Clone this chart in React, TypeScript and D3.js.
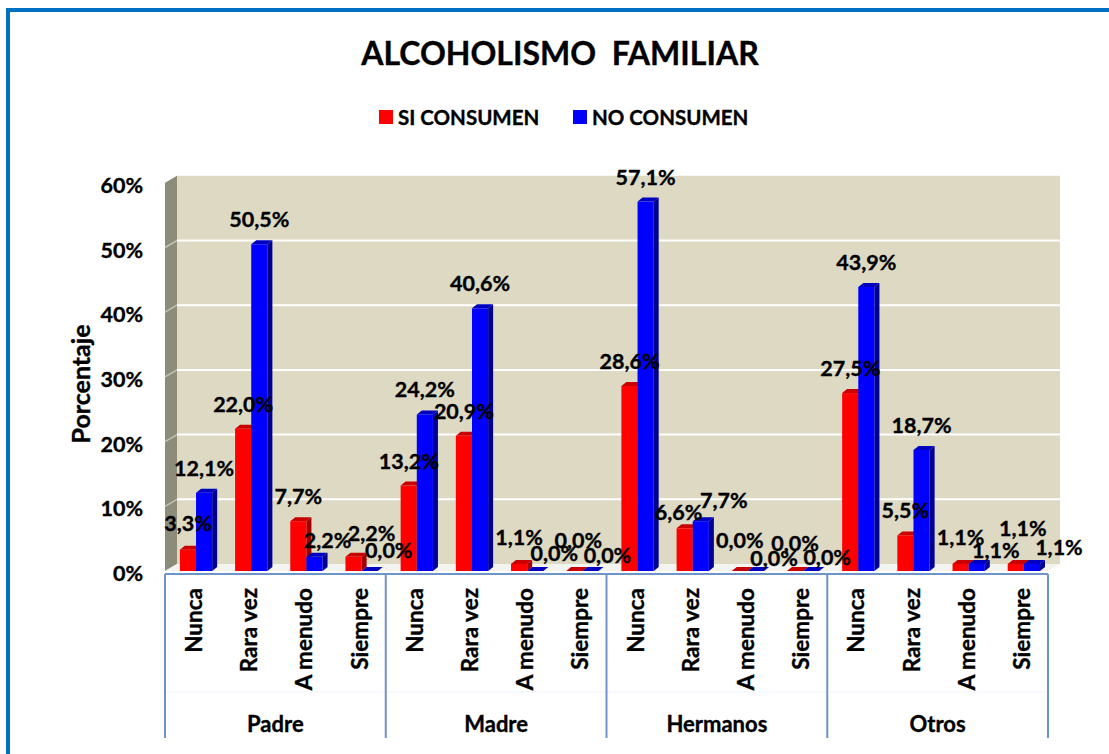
import * as d3 from 'd3';

const groups = ['Padre', 'Madre', 'Hermanos', 'Otros'];
const frequencies = ['Nunca', 'Rara vez', 'A menudo', 'Siempre'];
const seriesNames = ['SI CONSUMEN', 'NO CONSUMEN'];
// one value per group x frequency, in reading order
const siConsumen = [3.3, 22.0, 7.7, 2.2, 13.2, 20.9, 1.1, 0.0, 28.6, 6.6, 0.0, 0.0, 27.5, 5.5, 1.1, 1.1];
const noConsumen = [12.1, 50.5, 2.2, 0.0, 24.2, 40.6, 0.0, 0.0, 57.1, 7.7, 0.0, 0.0, 43.9, 18.7, 1.1, 1.1];
const yTicks = [0, 10, 20, 30, 40, 50, 60];

const W = 1109;
const H = 754;
const FONT = 'Lato, "Open Sans", sans-serif';
const PLOT = { left: 165, right: 1048, bottom: 571, top: 182.8 };
const WALL = { dx: 12, dy: -7 }; // depth of the back wall
const BAR = { dx: 5, dy: -4 }; // depth of a bar
const AXIS = { top: 574, bottom: 738 };
const INK = { fill: '#000', stroke: '#000', strokeWidth: 0.35 };

const colors = {
  si: { front: '#ff0000', top: '#c80000', side: '#a00000' },
  no: { front: '#0000ff', top: '#0000c0', side: '#000090' },
};

// Excel labels were dragged around a bit; small per-label nudges
const labelNudge: Record<string, [number, number]> = {
  'Padre|Nunca|0': [0, -2],
  'Padre|A menudo|1': [13, 8],
  'Padre|Siempre|0': [18, 1],
  'Padre|Siempre|1': [19, 4],
  'Madre|A menudo|0': [0, -2],
  'Madre|A menudo|1': [19, 7],
  'Madre|Siempre|0': [4, -6],
  'Madre|Siempre|1': [17, 9],
  'Hermanos|Rara vez|0': [-6, 9],
  'Hermanos|Rara vez|1': [23, 4],
  'Hermanos|A menudo|0': [0, -6],
  'Hermanos|A menudo|1': [18, 12],
  'Hermanos|Siempre|0': [0, -3],
  'Hermanos|Siempre|1': [16, 11],
  'Otros|A menudo|0': [0, -2],
  'Otros|A menudo|1': [19, 11],
  'Otros|Siempre|0': [7, -11],
  'Otros|Siempre|1': [27, 8],
};

const fmt = (v: number) => d3.format('.1f')(v).replace('.', ',') + '%';

export default function App() {
  const x0 = d3.scaleBand<string>().domain(groups).range([PLOT.left, PLOT.right]);
  const x1 = d3.scaleBand<string>().domain(frequencies).range([0, x0.bandwidth()]);
  const bw = x1.bandwidth();
  const xs = d3
    .scaleBand<string>()
    .domain(['0', '1'])
    .range([bw * 0.27, bw * 0.855]);
  const y = d3.scaleLinear().domain([0, 60]).range([PLOT.bottom, PLOT.top]);

  const bars = groups.flatMap((g, gi) =>
    frequencies.flatMap((f, fi) => {
      const idx = gi * frequencies.length + fi;
      return [siConsumen[idx], noConsumen[idx]].map((v, si) => ({
        key: `${g}|${f}|${si}`,
        x: (x0(g) ?? 0) + (x1(f) ?? 0) + (xs(String(si)) ?? 0),
        v,
        si,
      }));
    })
  );
  const barW = xs.bandwidth();
  const wallL = PLOT.left + WALL.dx;
  const wallR = PLOT.right + WALL.dx;

  return (
    <svg
      width={W}
      height={H}
      viewBox={`0 0 ${W} ${H}`}
      style={{ position: 'absolute', left: 0, top: 0, background: '#fff' }}
      fontFamily={FONT}
      fontWeight="bold"
    >
      <rect x={8} y={10} width={1300} height={1000} fill="none" stroke="#0070c0" strokeWidth={4} />

      <text x={560} y={65} textAnchor="middle" fontSize={32} {...INK} style={{ whiteSpace: 'pre' }}>
        ALCOHOLISMO  FAMILIAR
      </text>

      {/* legend */}
      <rect x={379} y={110} width={14} height={14} fill={colors.si.front} />
      <text x={398} y={117} dominantBaseline="central" fontSize={20.5} {...INK}>
        {seriesNames[0]}
      </text>
      <rect x={573} y={110} width={14} height={14} fill={colors.no.front} />
      <text x={592} y={117} dominantBaseline="central" fontSize={20.5} {...INK}>
        {seriesNames[1]}
      </text>

      {/* walls */}
      <rect x={wallL} y={y(60) + WALL.dy} width={wallR - wallL} height={y(0) - y(60)} fill="#ddd9c3" />
      <polygon
        points={`${PLOT.left},${y(60)} ${wallL},${y(60) + WALL.dy} ${wallL},${y(0) + WALL.dy} ${PLOT.left},${y(0)}`}
        fill="#8d8b7a"
      />
      <polygon
        points={`${PLOT.left},${y(0)} ${wallL},${y(0) + WALL.dy} ${wallR},${y(0) + WALL.dy} ${PLOT.right},${y(0)}`}
        fill="#f3f3f0"
      />
      {yTicks.slice(1, -1).map((t) => (
        <g key={t}>
          <line x1={wallL} x2={wallR} y1={y(t) + WALL.dy} y2={y(t) + WALL.dy} stroke="#fff" strokeWidth={2} />
          <line x1={PLOT.left} x2={wallL} y1={y(t)} y2={y(t) + WALL.dy} stroke="#c4c2b4" strokeWidth={1.5} />
        </g>
      ))}

      {/* y axis */}
      {yTicks.map((t) => (
        <text key={t} x={143} y={y(t) + 2} textAnchor="end" dominantBaseline="central" fontSize={21.5} {...INK}>
          {t}%
        </text>
      ))}
      <text
        transform={`translate(80,384) rotate(-90)`}
        textAnchor="middle"
        dominantBaseline="central"
        fontSize={25}
        {...INK}
      >
        Porcentaje
      </text>

      {/* bars */}
      {bars.map((b) => {
        const c = b.si === 0 ? colors.si : colors.no;
        const yt = y(b.v);
        const h = y(0) - yt;
        return (
          <g key={b.key}>
            <polygon
              points={`${b.x + barW},${yt} ${b.x + barW + BAR.dx},${yt + BAR.dy} ${b.x + barW + BAR.dx},${y(0) + BAR.dy} ${b.x + barW},${y(0)}`}
              fill={c.side}
            />
            <polygon
              points={`${b.x},${yt} ${b.x + BAR.dx},${yt + BAR.dy} ${b.x + barW + BAR.dx},${yt + BAR.dy} ${b.x + barW},${yt}`}
              fill={c.top}
            />
            {h > 0 && <rect x={b.x} y={yt} width={barW} height={h} fill={c.front} />}
          </g>
        );
      })}

      {/* data labels */}
      {bars.map((b) => {
        const [dx, dy] = labelNudge[b.key] ?? [0, 0];
        return (
          <text
            key={b.key}
            x={b.x + barW / 2 + dx}
            y={y(b.v) - 25 + dy}
            textAnchor="middle"
            dominantBaseline="central"
            fontSize={21.5}
            {...INK}
          >
            {fmt(b.v)}
          </text>
        );
      })}

      {/* category axis */}
      <line x1={PLOT.left} x2={PLOT.right} y1={AXIS.top} y2={AXIS.top} stroke="#6d94c8" strokeWidth={2} />
      <line x1={PLOT.left} x2={PLOT.right} y1={692} y2={692} stroke="#eef2f8" strokeWidth={1} />
      {[...groups.map((g) => x0(g) ?? 0), PLOT.right].map((gx, i) => (
        <line key={i} x1={gx} x2={gx} y1={AXIS.top} y2={AXIS.bottom} stroke="#6d94c8" strokeWidth={2} />
      ))}
      {groups.map((g) =>
        frequencies.map((f) => {
          const cx = (x0(g) ?? 0) + (x1(f) ?? 0) + bw / 2 + 1;
          return (
            <text
              key={g + f}
              transform={`translate(${cx},588) rotate(-90)`}
              textAnchor="end"
              dominantBaseline="central"
              fontSize={22.5}
              {...INK}
            >
              {f}
            </text>
          );
        })
      )}
      {groups.map((g) => (
        <text
          key={g}
          x={(x0(g) ?? 0) + x0.bandwidth() / 2}
          y={723}
          textAnchor="middle"
          dominantBaseline="central"
          fontSize={22}
          {...INK}
        >
          {g}
        </text>
      ))}
    </svg>
  );
}
